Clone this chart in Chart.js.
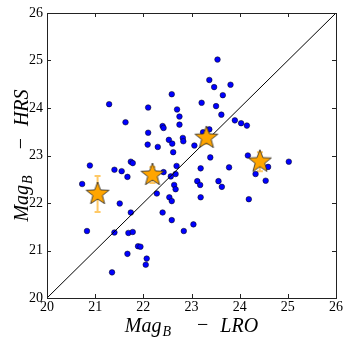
<!DOCTYPE html>
<html>
<head>
<meta charset="utf-8">
<script src="https://cdn.jsdelivr.net/npm/chart.js@4/dist/chart.umd.min.js"></script>
<style>
  body { margin: 0; background: #fff; }
  #wrap { width: 349px; height: 342px; }
</style>
</head>
<body>
<div id="wrap"><canvas id="magChart" width="349" height="342"></canvas></div>
<script>
// galaxies: LRO magnitude vs HRS magnitude
const lroMag = [
  21.29, 21.63, 22.10, 22.59, 22.70, 22.75, 22.75, 22.40, 22.42, 22.10,
  22.53, 22.60, 22.82, 22.83, 22.09, 22.30, 23.54, 23.37, 23.47, 23.81,
  23.65, 23.21, 23.51, 23.62, 23.90, 24.03, 24.15, 23.24, 23.37, 23.06,
  20.89, 20.73, 21.40, 21.55, 21.74, 21.78, 21.67, 22.62, 22.42, 22.57,
  22.67, 22.69, 22.64, 22.67, 22.28, 22.54, 22.59, 21.51, 21.74, 22.40,
  22.59, 20.83, 21.40, 21.69, 21.78, 22.84, 21.89, 21.94, 21.67, 22.07,
  22.05, 21.35, 23.39, 24.17, 25.02, 23.19, 23.78, 24.59, 24.33, 24.54,
  23.12, 23.18, 23.56, 23.63, 23.19, 24.19, 23.04
];
const hrsMag = [
  24.08, 23.70, 24.01, 24.29, 23.97, 23.82, 23.65, 23.62, 23.58, 23.48,
  23.33, 23.25, 23.37, 23.30, 23.23, 23.18, 25.02, 24.59, 24.44, 24.49,
  24.27, 24.11, 24.04, 23.86, 23.74, 23.68, 23.63, 23.49, 23.55, 23.21,
  22.79, 22.40, 22.70, 22.67, 22.87, 22.84, 22.55, 23.07, 22.65, 22.56,
  22.61, 22.78, 22.38, 22.29, 22.20, 22.12, 22.04, 21.99, 21.80, 21.80,
  21.64, 21.41, 21.38, 21.37, 21.39, 21.41, 21.09, 21.08, 20.93, 20.83,
  20.70, 20.54, 22.96, 23.00, 22.87, 22.73, 22.75, 22.76, 22.61, 22.47,
  22.46, 22.38, 22.46, 22.34, 22.12, 22.08, 21.55
];

// binned means (stars) with error on HRS
const binLro = [21.05, 22.19, 23.31, 24.42];
const binHrs = [22.19, 22.59, 23.37, 22.87];
const binErr = [0.38, 0.17, 0.13, 0.20];

// one-to-one line
const diag = [20, 26];
const tickVals = [20, 21, 22, 23, 24, 25, 26];

const SERIF = '"Liberation Serif", "DejaVu Serif", serif';

// filled star marker
function makeStar(r) {
  const c = document.createElement('canvas');
  const s = Math.ceil(r * 2 + 2);
  c.width = s; c.height = s;
  const g = c.getContext('2d');
  g.beginPath();
  for (let i = 0; i < 10; i++) {
    const rad = i % 2 === 0 ? r : r * 0.42;
    const a = -Math.PI / 2 + i * Math.PI / 5;
    const px = s / 2 + rad * Math.cos(a);
    const py = s / 2 + rad * Math.sin(a);
    if (i === 0) g.moveTo(px, py); else g.lineTo(px, py);
  }
  g.closePath();
  g.fillStyle = '#FFA500';
  g.fill();
  g.strokeStyle = '#222';
  g.lineWidth = 0.8;
  g.stroke();
  return c;
}

// error bars under the stars
const errorBars = {
  id: 'errorBars',
  beforeDatasetsDraw(chart) {
    const { ctx, scales: { x, y } } = chart;
    ctx.save();
    ctx.strokeStyle = 'rgba(255,165,0,0.6)';
    ctx.lineWidth = 2;
    binLro.forEach((v, i) => {
      const px = x.getPixelForValue(v);
      const top = y.getPixelForValue(binHrs[i] + binErr[i]);
      const bot = y.getPixelForValue(binHrs[i] - binErr[i]);
      ctx.beginPath();
      ctx.moveTo(px, top); ctx.lineTo(px, bot);
      ctx.moveTo(px - 3, top); ctx.lineTo(px + 3, top);
      ctx.moveTo(px - 3, bot); ctx.lineTo(px + 3, bot);
      ctx.stroke();
    });
    ctx.restore();
  }
};

// box frame + inward ticks on all four sides
const frame = {
  id: 'frame',
  afterDraw(chart) {
    const { ctx, chartArea: a, scales: { x, y } } = chart;
    ctx.save();
    ctx.strokeStyle = '#222';
    ctx.lineWidth = 1;
    ctx.strokeRect(a.left + 0.5, a.top + 0.5, a.right - a.left, a.bottom - a.top);
    ctx.beginPath();
    tickVals.forEach(v => {
      const px = Math.round(x.getPixelForValue(v)) + 0.5;
      ctx.moveTo(px, a.bottom); ctx.lineTo(px, a.bottom - 4);
      ctx.moveTo(px, a.top); ctx.lineTo(px, a.top + 4);
      const py = Math.round(y.getPixelForValue(v)) + 0.5;
      ctx.moveTo(a.left, py); ctx.lineTo(a.left + 4, py);
      ctx.moveTo(a.right, py); ctx.lineTo(a.right - 4, py);
    });
    ctx.stroke();
    ctx.restore();
  }
};

// axis titles with subscript B
function drawMathLabel(ctx, name) {
  const big = 'italic 20px ' + SERIF;
  const sub = 'italic 14px ' + SERIF;
  const up = '20px ' + SERIF;
  ctx.font = big; const wMag = ctx.measureText('Mag').width;
  ctx.font = sub; const wB = ctx.measureText('B').width;
  ctx.font = up; const wMin = ctx.measureText('\u2212').width;
  ctx.font = big; const wName = ctx.measureText(name).width;
  const gap1 = 26, gap2 = 12;
  const total = wMag + 1 + wB + gap1 + wMin + gap2 + wName;
  let cx = -total / 2;
  ctx.textBaseline = 'alphabetic';
  ctx.textAlign = 'left';
  ctx.font = big; ctx.fillText('Mag', cx, 0); cx += wMag + 1;
  ctx.font = sub; ctx.fillText('B', cx, 4); cx += wB + gap1;
  ctx.font = up; ctx.fillText('\u2212', cx, -1); cx += wMin + gap2;
  ctx.font = big; ctx.fillText(name, cx, 0);
}

const axisTitles = {
  id: 'axisTitles',
  afterDraw(chart) {
    const { ctx, chartArea: a } = chart;
    ctx.save();
    ctx.fillStyle = '#000';
    ctx.translate((a.left + a.right) / 2, 332);
    drawMathLabel(ctx, 'LRO');
    ctx.restore();
    ctx.save();
    ctx.fillStyle = '#000';
    ctx.translate(28, (a.top + a.bottom) / 2);
    ctx.rotate(-Math.PI / 2);
    drawMathLabel(ctx, 'HRS');
    ctx.restore();
  }
};

const ctx = document.getElementById('magChart').getContext('2d');
new Chart(ctx, {
  type: 'scatter',
  data: {
    datasets: [
      {
        label: 'galaxies',
        data: lroMag.map((v, i) => ({ x: v, y: hrsMag[i] })),
        backgroundColor: '#0000FF',
        borderColor: '#000',
        borderWidth: 0.5,
        pointRadius: 2.8,
        order: 3
      },
      {
        type: 'line',
        label: 'one to one',
        data: diag.map(v => ({ x: v, y: v })),
        borderColor: '#000',
        borderWidth: 1,
        pointRadius: 0,
        showLine: true,
        order: 2
      },
      {
        label: 'binned',
        data: binLro.map((v, i) => ({ x: v, y: binHrs[i] })),
        pointStyle: makeStar(12),
        pointRadius: 12,
        order: 1
      }
    ]
  },
  options: {
    responsive: false,
    animation: false,
    devicePixelRatio: 1,
    layout: { padding: { top: 11, right: 13, left: 0, bottom: 0 } },
    plugins: { legend: { display: false }, tooltip: { enabled: false } },
    scales: {
      x: {
        min: 20, max: 26,
        grid: { display: false, drawTicks: false },
        border: { display: false },
        ticks: { stepSize: 1, padding: 1, color: '#000', font: { family: SERIF, size: 14 } },
        afterFit: (s) => { s.height = 44; }
      },
      y: {
        min: 20, max: 26,
        grid: { display: false, drawTicks: false },
        border: { display: false },
        ticks: { stepSize: 1, padding: 4, color: '#000', font: { family: SERIF, size: 14 } },
        afterFit: (s) => { s.width = 47; }
      }
    }
  },
  plugins: [errorBars, frame, axisTitles]
});
</script>
</body>
</html>
